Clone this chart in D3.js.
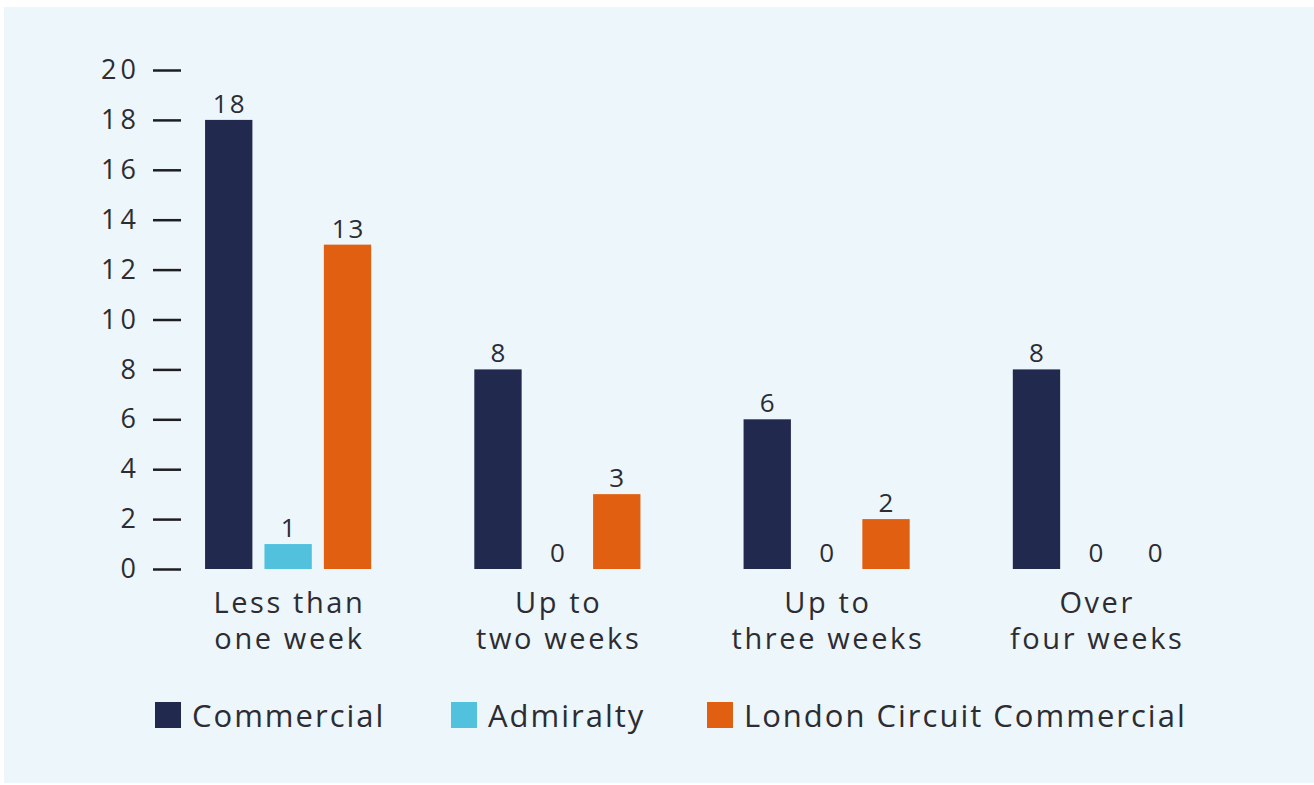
<!DOCTYPE html>
<html>
<head>
<meta charset="utf-8">
<script src="https://cdn.jsdelivr.net/npm/d3@7"></script>
<style>
  html, body { margin: 0; padding: 0; background: #ffffff; }
  svg { display: block; }
  text { font-family: "Open Sans", "DejaVu Sans", sans-serif; font-weight: 400; fill: #2c2c32; }
</style>
</head>
<body>
<svg id="chart" width="1314" height="785"></svg>
<script>
// Categories (two-line labels) and series
const categories = [
  ["Less than", "one week"],
  ["Up to", "two weeks"],
  ["Up to", "three weeks"],
  ["Over", "four weeks"]
];
const seriesNames = ["Commercial", "Admiralty", "London Circuit Commercial"];
const commercial = [18, 8, 6, 8];
const admiralty = [1, 0, 0, 0];
const londonCircuit = [13, 3, 2, 0];
const yTicks = [0, 2, 4, 6, 8, 10, 12, 14, 16, 18, 20];

const seriesValues = [commercial, admiralty, londonCircuit];
const colors = ["#22294e", "#52c1de", "#e15f10"];

const svg = d3.select("#chart");

// panel background
svg.append("rect")
  .attr("x", 4).attr("y", 7)
  .attr("width", 1310).attr("height", 776)
  .attr("fill", "#edf6fa");

const catKeys = categories.map((c, i) => i);

const x0 = d3.scaleBand()
  .domain(catKeys)
  .range([153.5, 1230.5])
  .paddingInner(0.383)
  .paddingOuter(0.1915);

const x1 = d3.scaleBand()
  .domain(seriesNames)
  .range([0, x0.bandwidth()])
  .paddingInner(0.203)
  .paddingOuter(0);

const y = d3.scaleLinear().domain([0, 20]).range([569, 70]);

// y axis: tick marks and labels only
const yAxis = svg.append("g")
  .attr("transform", "translate(181,0)")
  .call(d3.axisLeft(y).tickValues(yTicks).tickSize(28).tickPadding(13));
yAxis.select(".domain").remove();
yAxis.selectAll(".tick line").attr("stroke", "#1e1e22").attr("stroke-width", 2.5);
yAxis.selectAll(".tick text")
  .attr("font-size", 27)
  .attr("letter-spacing", 4)
  .attr("fill", "#2c2c32")
  .style("font-family", '"Open Sans", sans-serif');

// bars
const groups = svg.append("g").selectAll("g")
  .data(catKeys)
  .join("g")
  .attr("transform", i => `translate(${x0(i)},0)`);

const cells = groups.selectAll("g.cell")
  .data(i => seriesNames.map((s, k) => ({ s, k, v: seriesValues[k][i] })))
  .join("g").attr("class", "cell");

cells.filter(d => d.v > 0).append("rect")
  .attr("x", d => x1(d.s))
  .attr("y", d => y(d.v))
  .attr("width", x1.bandwidth())
  .attr("height", d => y(0) - y(d.v))
  .attr("fill", d => colors[d.k]);

cells.append("text")
  .attr("x", d => x1(d.s) + x1.bandwidth() / 2 + 1)
  .attr("y", d => y(d.v) - 7)
  .attr("text-anchor", "middle")
  .attr("font-size", 26)
  .attr("letter-spacing", 2)
  .text(d => d.v);

// category labels
const catLabels = svg.append("g").selectAll("text")
  .data(catKeys)
  .join("text")
  .attr("text-anchor", "middle")
  .attr("font-size", 29)
  .attr("letter-spacing", 2.6)
  .attr("transform", i => `translate(${x0(i) + x0.bandwidth() / 2 + 1.3},613)`);
catLabels.selectAll("tspan")
  .data(i => categories[i])
  .join("tspan")
  .attr("x", 0)
  .attr("dy", (d, j) => j === 0 ? 0 : 36)
  .text(d => d);

// legend
const legendX = [155, 451, 707];
const legend = svg.append("g").selectAll("g")
  .data(seriesNames)
  .join("g")
  .attr("transform", (d, k) => `translate(${legendX[k]},702)`);
legend.append("rect")
  .attr("width", 26).attr("height", 26)
  .attr("fill", (d, k) => colors[k]);
legend.append("text")
  .attr("x", 37).attr("y", 24.5)
  .attr("font-size", 31)
  .attr("letter-spacing", 2)
  .text(d => d);
</script>
</body>
</html>
